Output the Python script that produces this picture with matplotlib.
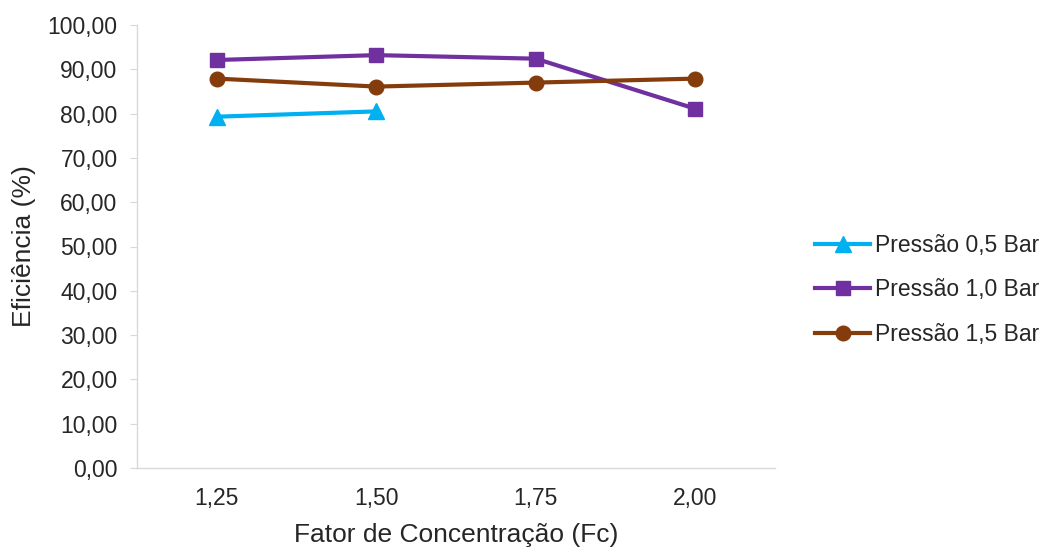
import matplotlib
matplotlib.use("Agg")
import matplotlib.pyplot as plt
from matplotlib.ticker import FuncFormatter

plt.rcParams['font.family'] = ['Liberation Sans', 'DejaVu Sans']

categories = ["1,25", "1,50", "1,75", "2,00"]
p05 = [79.3, 80.5]
p10 = [92.1, 93.2, 92.4, 81.1]
p15 = [87.9, 86.1, 87.0, 87.9]
series_names = ["Pressão 0,5 Bar", "Pressão 1,0 Bar", "Pressão 1,5 Bar"]
colors = ["#00B0F0", "#7030A0", "#843C0C"]
text_color = '#262626'

fig = plt.figure(figsize=(10.48, 5.48), dpi=100)
ax = fig.add_axes([137/1048, 1 - 468/548, (775-137)/1048, (468-25)/548])

x = list(range(len(categories)))
ax.plot(x[:len(p05)], p05, color=colors[0], lw=3, marker='^', ms=11, label=series_names[0])
ax.plot(x, p10, color=colors[1], lw=3, marker='s', ms=10.5, label=series_names[1])
ax.plot(x, p15, color=colors[2], lw=3, marker='o', ms=10.5, label=series_names[2])

ax.set_xlim(-0.5, 3.5)
ax.set_ylim(0, 100)
ax.set_yticks(range(0, 101, 10))
ax.yaxis.set_major_formatter(FuncFormatter(lambda v, p: f"{v:.2f}".replace('.', ',')))
ax.set_xticks(x)
ax.set_xticklabels(categories)

for s in ['top', 'right']:
    ax.spines[s].set_visible(False)
for s in ['left', 'bottom']:
    ax.spines[s].set_color('#D9D9D9')
    ax.spines[s].set_linewidth(1)
ax.tick_params(axis='y', colors='#D9D9D9', labelcolor=text_color, labelsize=16.5, length=5, direction='out', pad=9)
ax.tick_params(axis='x', length=0, labelcolor=text_color, labelsize=16.5, pad=14)

ax.set_xlabel("Fator de Concentração (Fc)", fontsize=19, color=text_color, labelpad=9)
ax.set_ylabel("Eficiência (%)", fontsize=19, color=text_color, labelpad=8)

leg = fig.legend(loc='center left', bbox_to_anchor=(806/1048, 1 - 290/548), frameon=False,
                 fontsize=16.5, handlelength=2.4, handletextpad=0.2, labelspacing=0.95,
                 labelcolor=text_color, borderaxespad=0)

fig.savefig("out.png", dpi=100)
